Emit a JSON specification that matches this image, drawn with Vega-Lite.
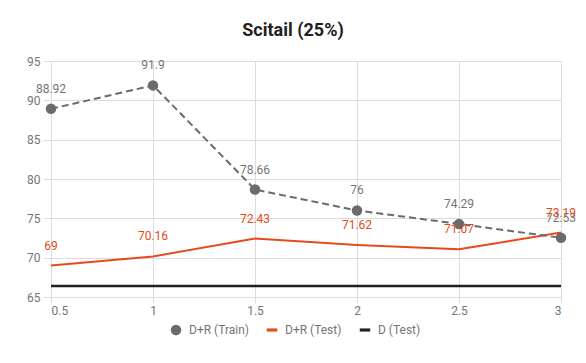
{
  "$schema": "https://vega.github.io/schema/vega-lite/v6.json",
  "width": 510,
  "height": 236,
  "autosize": "none",
  "padding": {"left": 51, "top": 61, "right": 25, "bottom": 66},
  "background": "white",
  "title": {"text": "Scitail (25%)", "font": "Roboto", "fontSize": 18, "fontWeight": "bold", "color": "#212121", "offset": 15, "dx": -13, "anchor": "middle"},
  "config": {
    "view": {"stroke": null},
    "font": "Roboto",
    "axis": {"labelFont": "Roboto", "labelFontSize": 12, "labelColor": "#757575", "gridColor": "#dcdcdc", "tickColor": "#dcdcdc", "domain": false, "titleFontSize": 0}
  },
  "data": {"values": [
    {"x": 0.5, "y": 88.92, "series": "D+R (Train)"},
    {"x": 1, "y": 91.9, "series": "D+R (Train)"},
    {"x": 1.5, "y": 78.66, "series": "D+R (Train)"},
    {"x": 2, "y": 76, "series": "D+R (Train)"},
    {"x": 2.5, "y": 74.29, "series": "D+R (Train)"},
    {"x": 3, "y": 72.53, "series": "D+R (Train)"},
    {"x": 0.5, "y": 69, "series": "D+R (Test)"},
    {"x": 1, "y": 70.16, "series": "D+R (Test)"},
    {"x": 1.5, "y": 72.43, "series": "D+R (Test)"},
    {"x": 2, "y": 71.62, "series": "D+R (Test)"},
    {"x": 2.5, "y": 71.07, "series": "D+R (Test)"},
    {"x": 3, "y": 73.19, "series": "D+R (Test)"},
    {"x": 0.5, "y": 66.4, "series": "D (Test)"},
    {"x": 1, "y": 66.4, "series": "D (Test)"},
    {"x": 1.5, "y": 66.4, "series": "D (Test)"},
    {"x": 2, "y": 66.4, "series": "D (Test)"},
    {"x": 2.5, "y": 66.4, "series": "D (Test)"},
    {"x": 3, "y": 66.4, "series": "D (Test)"}
  ]},
  "encoding": {
    "x": {"field": "x", "type": "quantitative", "scale": {"domain": [0.5, 3], "nice": false, "zero": false},
      "axis": {"values": [0.5, 1, 1.5, 2, 2.5, 3], "labelExpr": "datum.value + ''", "title": null, "tickSize": 6, "labelPadding": 2, "grid": true}},
    "y": {"field": "y", "type": "quantitative", "scale": {"domain": [65, 95], "nice": false, "zero": false},
      "axis": {"values": [65, 70, 75, 80, 85, 90, 95], "title": null, "tickSize": 8, "labelPadding": 3}}
  },
  "layer": [
    {
      "transform": [{"filter": "datum.series == 'D (Test)'"}],
      "mark": {"type": "line", "strokeWidth": 2.5, "color": "#212121"}
    },
    {
      "transform": [{"filter": "datum.series == 'D+R (Test)'"}],
      "mark": {"type": "line", "strokeWidth": 2, "color": "#e64a19"}
    },
    {
      "transform": [{"filter": "datum.series == 'D+R (Train)'"}],
      "mark": {"type": "line", "strokeWidth": 2, "color": "#6b6b6b", "strokeDash": [7, 4]}
    },
    {
      "transform": [{"filter": "datum.series == 'D+R (Train)'"}],
      "mark": {"type": "point", "filled": true, "opacity": 1, "size": 110},
      "encoding": {
        "color": {"field": "series", "type": "nominal", "scale": {"domain": ["D+R (Train)", "D+R (Test)", "D (Test)"], "range": ["#6b6b6b", "#e64a19", "#212121"]},
          "legend": {"title": null, "orient": "none", "legendX": 119, "legendY": 263, "direction": "horizontal", "labelFont": "Roboto", "labelFontSize": 12, "labelColor": "#757575", "columnPadding": 17, "labelOffset": 7, "symbolSize": 110}},
        "shape": {"field": "series", "type": "nominal", "scale": {"domain": ["D+R (Train)", "D+R (Test)", "D (Test)"], "range": ["circle", "M-1,-0.3H1V0.3H-1Z", "M-1,-0.3H1V0.3H-1Z"]},
          "legend": {"title": null, "orient": "none", "legendX": 119, "legendY": 263, "direction": "horizontal", "labelFont": "Roboto", "labelFontSize": 12, "labelColor": "#757575", "columnPadding": 17, "labelOffset": 7, "symbolSize": 110}}
      }
    },
    {
      "transform": [{"filter": "datum.series == 'D+R (Train)'"}],
      "mark": {"type": "text", "font": "Roboto", "fontSize": 12, "color": "#757575", "dy": -20, "baseline": "middle"},
      "encoding": {"text": {"field": "y", "type": "quantitative"}}
    },
    {
      "transform": [{"filter": "datum.series == 'D+R (Test)'"}],
      "mark": {"type": "text", "font": "Roboto", "fontSize": 12, "color": "#e64a19", "dy": -20, "baseline": "middle"},
      "encoding": {"text": {"field": "y", "type": "quantitative"}}
    }
  ]
}
